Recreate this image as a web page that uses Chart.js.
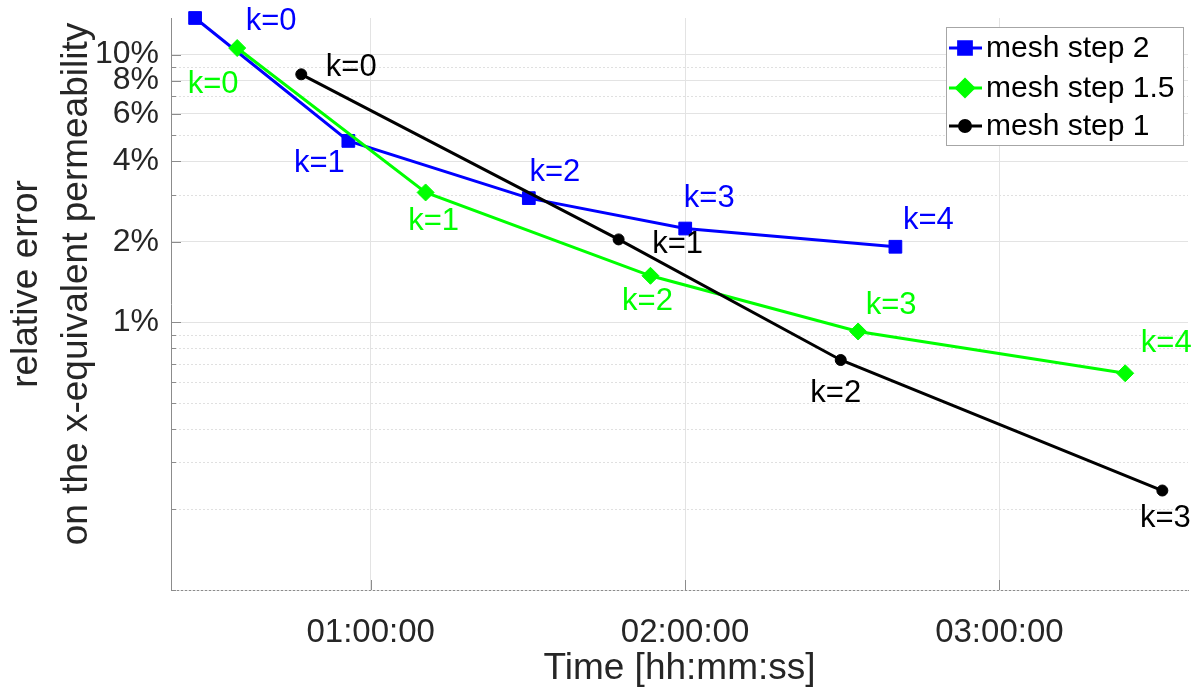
<!DOCTYPE html>
<html>
<head>
<meta charset="utf-8">
<script src="https://cdn.jsdelivr.net/npm/chart.js@4.4.1/dist/chart.umd.min.js"></script>
<style>
  html, body { margin: 0; padding: 0; background: #fff; }
  #chart { display: block; }
</style>
</head>
<body>
<canvas id="chart" width="1198" height="688"></canvas>
<script>
// time in seconds, relative error in percent
const seriesNames = ["mesh step 2", "mesh step 1.5", "mesh step 1"];
const step2Time = [1589, 3344, 5411, 7202, 9609];
const step2Err = [13.7, 4.76, 2.91, 2.24, 1.915];
const step15Time = [2071, 4229, 6804, 9182, 12241];
const step15Err = [10.58, 3.055, 1.492, 0.924, 0.645];
const step1Time = [2805, 6439, 8983, 12666];
const step1Err = [8.44, 2.04, 0.723, 0.2353];

const xTicks = [3600, 7200, 10800];
const yGridTicks = [0.1, 0.2, 0.3, 0.4, 0.5, 0.6, 0.7, 0.8, 0.9, 1, 2, 3, 4, 5, 6, 7, 8, 9, 10];
const yLabelTicks = [1, 2, 4, 6, 8, 10];
const xRange = [1313, 12960];
const yRange = [0.1, 13.7];

// where the "k=.." text sits relative to its point (px)
const kOffsets = [
  [[76, 3], [-29, 23], [26, -26], [24, -30], [33, -26]],
  [[-24, 36], [8, 29], [-3, 26], [33, -26], [41, -30]],
  [[50, -7], [59, 5], [-5, 33], [3, 28]]
];

const FONT = "'Liberation Sans', Arial, sans-serif";
const TXT = "#262626";
const AXIS = "#8c8c8c";

function hms(s) {
  const h = Math.floor(s / 3600), m = Math.floor((s % 3600) / 60), sec = Math.round(s % 60);
  return [h, m, sec].map((n) => String(n).padStart(2, "0")).join(":");
}
function pts(xs, ys) {
  return xs.map((x, i) => ({ x: x, y: ys[i] }));
}

const extras = {
  id: "extras",
  beforeDatasetsDraw(chart) {
    // dotted minor grid
    const { ctx, chartArea: a, scales } = chart;
    ctx.save();
    ctx.strokeStyle = "#e0e0e0";
    ctx.lineWidth = 1;
    ctx.setLineDash([2, 2]);
    yGridTicks.forEach((v) => {
      if (yLabelTicks.includes(v)) return;
      const py = Math.round(scales.y.getPixelForValue(v)) + 0.5;
      ctx.beginPath();
      ctx.moveTo(a.left, py);
      ctx.lineTo(a.right, py);
      ctx.stroke();
    });
    ctx.restore();
  },
  afterDraw(chart) {
    const { ctx, chartArea: a, scales } = chart;
    ctx.save();
    // inward tick marks
    ctx.strokeStyle = AXIS;
    ctx.lineWidth = 1;
    yGridTicks.forEach((v) => {
      const py = Math.round(scales.y.getPixelForValue(v)) + 0.5;
      const len = yLabelTicks.includes(v) ? 10 : 5;
      ctx.beginPath();
      ctx.moveTo(a.left, py);
      ctx.lineTo(a.left + len, py);
      ctx.stroke();
    });
    xTicks.forEach((v) => {
      const px = Math.round(scales.x.getPixelForValue(v)) + 0.5;
      ctx.beginPath();
      ctx.moveTo(px, a.bottom);
      ctx.lineTo(px, a.bottom - 10);
      ctx.stroke();
    });

    // k labels
    ctx.font = "31px " + FONT;
    ctx.textAlign = "center";
    ctx.textBaseline = "middle";
    chart.data.datasets.forEach((ds, di) => {
      const meta = chart.getDatasetMeta(di);
      ctx.fillStyle = ds.borderColor;
      meta.data.forEach((p, i) => {
        const off = kOffsets[di][i];
        ctx.fillText("k=" + i, p.x + off[0], p.y + off[1]);
      });
    });

    // y title
    ctx.save();
    ctx.translate(0, 284);
    ctx.rotate(-Math.PI / 2);
    ctx.font = "37px " + FONT;
    ctx.fillStyle = TXT;
    ctx.fillText("relative error", 0, 27);
    ctx.fillText("on the x-equivalent permeability", 0, 77);
    ctx.restore();

    // legend
    const bx = 946, by = 27, bw = 237, bh = 118;
    ctx.fillStyle = "#fff";
    ctx.fillRect(bx, by, bw, bh);
    ctx.strokeStyle = "#a6a6a6";
    ctx.strokeRect(bx + 0.5, by + 0.5, bw, bh);
    const rows = [48, 88, 126];
    ctx.font = "30px " + FONT;
    ctx.textAlign = "left";
    chart.data.datasets.forEach((ds, di) => {
      const yy = rows[di];
      ctx.strokeStyle = ds.borderColor;
      ctx.fillStyle = ds.borderColor;
      ctx.lineWidth = 3;
      ctx.beginPath();
      ctx.moveTo(949, yy);
      ctx.lineTo(982, yy);
      ctx.stroke();
      Chart.helpers.drawPoint(ctx, {
        pointStyle: ds.pointStyle, rotation: 0, radius: ds.pointRadius, borderWidth: 1
      }, 965, yy);
      ctx.fillStyle = "#000";
      ctx.fillText(ds.label, 986, yy + 1);
    });
    ctx.restore();
  }
};

new Chart(document.getElementById("chart").getContext("2d"), {
  type: "line",
  data: {
    datasets: [
      {
        label: seriesNames[0], data: pts(step2Time, step2Err),
        borderColor: "#0000ff", backgroundColor: "#0000ff",
        pointStyle: "rect", pointRadius: 9, order: 3, clip: false
      },
      {
        label: seriesNames[1], data: pts(step15Time, step15Err),
        borderColor: "#00ff00", backgroundColor: "#00ff00",
        pointStyle: "rectRot", pointRadius: 8.5, order: 2, clip: false
      },
      {
        label: seriesNames[2], data: pts(step1Time, step1Err),
        borderColor: "#000000", backgroundColor: "#000000",
        pointStyle: "circle", pointRadius: 5.5, order: 1, clip: false
      }
    ]
  },
  options: {
    responsive: false,
    animation: false,
    devicePixelRatio: 1,
    layout: { padding: { left: 0, top: 18, right: 5, bottom: 0 } },
    elements: {
      line: { borderWidth: 3, tension: 0 },
      point: { borderWidth: 1, hoverRadius: 8 }
    },
    plugins: {
      legend: { display: false },
      tooltip: { enabled: false }
    },
    scales: {
      x: {
        type: "linear",
        min: xRange[0],
        max: xRange[1],
        afterBuildTicks: (s) => { s.ticks = xTicks.map((v) => ({ value: v })); },
        afterFit: (s) => { s.height = 98; s.paddingLeft = 0; s.paddingRight = 0; },
        ticks: {
          callback: (v) => hms(v),
          color: TXT,
          font: { family: FONT, size: 33, lineHeight: 1.2 },
          padding: 23,
          maxRotation: 0,
          autoSkip: false
        },
        grid: { color: "#e3e3e3", drawTicks: false },
        border: { display: true, color: AXIS, width: 1 },
        title: {
          display: true,
          text: "Time [hh:mm:ss]",
          color: TXT,
          font: { family: FONT, size: 37, lineHeight: 1 },
          padding: { top: 0, bottom: 1 }
        }
      },
      y: {
        type: "logarithmic",
        min: yRange[0],
        max: yRange[1],
        afterBuildTicks: (s) => { s.ticks = yGridTicks.map((v) => ({ value: v })); },
        afterFit: (s) => { s.width = 171; s.paddingTop = 0; s.paddingBottom = 0; },
        ticks: {
          callback: (v) => (yLabelTicks.includes(v) ? v + "%" : ""),
          color: TXT,
          font: { family: FONT, size: 32 },
          padding: 12,
          autoSkip: false
        },
        grid: {
          color: (c) => (c.tick && yLabelTicks.includes(c.tick.value) ? "#e3e3e3" : "rgba(0,0,0,0)"),
          drawTicks: false
        },
        border: { display: true, color: AXIS, width: 1 }
      }
    }
  },
  plugins: [extras]
});
</script>
</body>
</html>
